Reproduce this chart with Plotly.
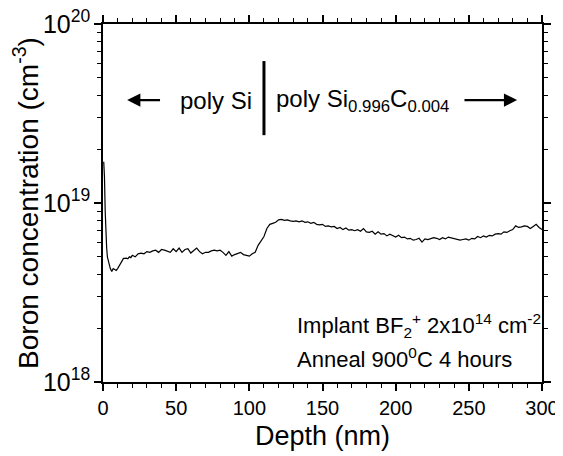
import plotly.graph_objects as go

# Depth (nm) and boron concentration (units of 1e18 cm^-3)
depth = [0.5, 1, 1.5, 2, 2.5, 3, 4, 5, 6, 7, 8, 9, 10, 11, 12, 13, 14, 15, 16, 17, 18, 19,
         20, 22, 24, 26, 28, 30, 32, 34, 36, 38, 40, 42, 44, 46, 48, 50, 52, 54, 56, 58,
         60, 62, 64, 66, 68, 70, 72, 74, 76, 78, 80, 82, 84, 86, 88, 90, 92, 94, 96, 98,
         100, 102, 104, 106, 108, 110, 112, 114, 116, 118, 120, 122, 124, 126, 128, 130,
         132, 134, 136, 138, 140, 142, 144, 146, 148, 150, 152, 154, 156, 158, 160, 162,
         164, 166, 168, 170, 172, 174, 176, 178, 180, 182, 184, 186, 188, 190, 192, 194,
         196, 198, 200, 202, 204, 206, 208, 210, 212, 214, 216, 218, 220, 222, 224, 226,
         228, 230, 232, 234, 236, 238, 240, 242, 244, 246, 248, 250, 252, 254, 256, 258,
         260, 262, 264, 266, 268, 270, 272, 274, 276, 278, 280, 282, 284, 286, 288, 290,
         292, 294, 296, 298, 300]
conc_e18 = [17, 14, 9, 6.5, 5.6, 5.0, 4.6, 4.3, 4.15, 4.3, 4.25, 4.2, 4.3, 4.45, 4.55, 4.75, 4.9, 4.9, 4.92, 4.88, 5.0, 4.95,
            5.1, 5.0, 5.2, 5.25, 5.2, 5.35, 5.3, 5.4, 5.45, 5.3, 5.5, 5.45, 5.4, 5.3, 5.55, 5.35, 5.6, 5.3, 5.5, 5.55,
            5.25, 5.45, 5.6, 5.35, 5.2, 5.3, 5.3, 5.4, 5.45, 5.4, 5.45, 5.3, 5.1, 5.35, 5.05, 5.15, 5.25, 5.3, 5.15, 5.1,
            5.05, 5.2, 5.3, 5.8, 6.1, 6.5, 7.2, 7.6, 7.7, 7.8, 8.05, 8.1, 8.0, 8.05, 7.95, 7.9,
            7.95, 7.85, 7.95, 7.8, 7.85, 7.7, 7.8, 7.6, 7.55, 7.6, 7.4, 7.45, 7.35, 7.4, 7.2, 7.3,
            7.1, 7.25, 7.05, 7.1, 7.0, 7.1, 6.95, 7.2, 6.9, 6.85, 6.95, 6.7, 6.9, 6.7, 6.75, 6.55,
            6.7, 6.6, 6.45, 6.6, 6.4, 6.45, 6.3, 6.35, 6.2, 6.25, 6.35, 6.05, 6.3, 6.25, 6.35, 6.4,
            6.35, 6.25, 6.4, 6.3, 6.45, 6.4, 6.3, 6.25, 6.2, 6.25, 6.3, 6.2, 6.35, 6.3, 6.5, 6.4,
            6.55, 6.45, 6.6, 6.55, 6.7, 6.75, 6.7, 6.9, 6.85, 7.0, 7.1, 7.45, 7.3, 7.35, 7.45, 7.4,
            7.2, 7.4, 7.6, 7.3, 7.1]
conc = [v * 1e18 for v in conc_e18]

x_ticks = [0, 50, 100, 150, 200, 250, 300]

FONT = "Liberation Sans, Arial, sans-serif"

fig = go.Figure()
fig.add_trace(go.Scatter(x=depth, y=conc, mode="lines",
                         line=dict(color="black", width=1.2), showlegend=False,
                         hoverinfo="skip"))

base = dict(showline=True, linecolor="black", linewidth=1.5, showgrid=False,
            zeroline=False, tickcolor="black", tickwidth=1.5, mirror="ticks",
            automargin=False, ticklabeloverflow="allow")

# page body adds an 8px offset, so the figure is 8px smaller and margins shifted
fig.update_layout(
    width=555, height=448,
    margin=dict(l=95, r=21, t=16, b=74),
    paper_bgcolor="white", plot_bgcolor="white",
    font=dict(family=FONT, color="black", size=20),
    xaxis=dict(range=[0, 300], tickvals=x_ticks, ticks="outside", ticklen=7,
               minor=dict(dtick=10, ticks="outside", ticklen=4, tickcolor="black", tickwidth=1.2),
               title=dict(text="Depth (nm)", font=dict(size=27), standoff=8),
               tickfont=dict(size=20), **base),
    yaxis=dict(type="log", range=[17.9998, 20.0002], tickmode="linear", tick0=0, dtick=1,
               exponentformat="power", showexponent="all",
               ticks="outside", ticklen=7,
               minor=dict(dtick="D1", ticks="outside", ticklen=4, tickcolor="black", tickwidth=1.2),
               title=dict(text="Boron concentration (cm<sup>-3</sup>)", font=dict(size=28), standoff=4),
               tickfont=dict(size=20), **base),
)

# Layer boundary marker (paper coords: y fraction of the log range)
fig.add_shape(type="line", xref="x", yref="paper", x0=110, x1=110, y0=0.6895, y1=0.8965,
              line=dict(color="black", width=3))

ann_font = dict(family=FONT, size=24, color="black")
fig.add_annotation(x=103.5, y=19.575, xref="x", yref="y", text="poly Si",
                   showarrow=False, xanchor="right", yanchor="middle", font=ann_font)
fig.add_annotation(x=117, y=19.575, xref="x", yref="y",
                   text="poly Si<sub>0.996</sub>C<sub>0.004</sub>",
                   showarrow=False, xanchor="left", yanchor="middle", font=ann_font)
# arrows
fig.add_annotation(x=16.5, y=19.575, ax=40, ay=19.575, xref="x", yref="y", axref="x", ayref="y",
                   text="", showarrow=True, arrowhead=2, arrowsize=1.2, arrowwidth=2.2,
                   arrowcolor="black")
fig.add_annotation(x=283, y=19.575, ax=246, ay=19.575, xref="x", yref="y", axref="x", ayref="y",
                   text="", showarrow=True, arrowhead=2, arrowsize=1.2, arrowwidth=2.2,
                   arrowcolor="black")

small_font = dict(family=FONT, size=22, color="black")
fig.add_annotation(x=131, y=18.317, xref="x", yref="y",
                   text="Implant BF<sub>2</sub><sup>+</sup> 2x10<sup>14</sup> cm<sup>-2</sup>",
                   showarrow=False, xanchor="left", yanchor="middle", font=small_font)
fig.add_annotation(x=131, y=18.133, xref="x", yref="y",
                   text="Anneal 900<sup>0</sup>C 4 hours",
                   showarrow=False, xanchor="left", yanchor="middle", font=small_font)

fig.write_html("out.html")
